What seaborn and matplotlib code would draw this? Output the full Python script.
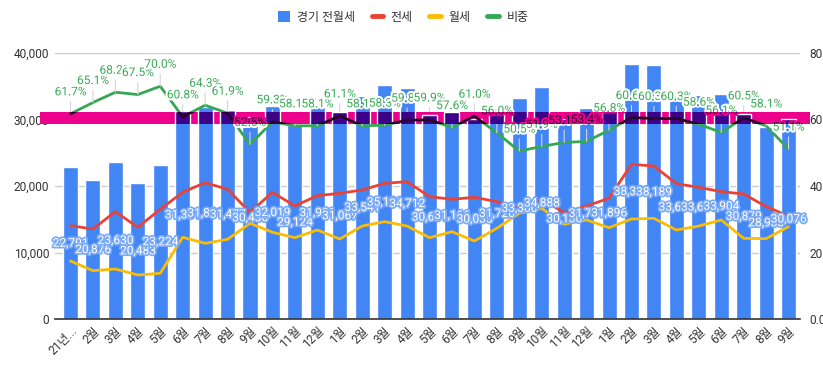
import pandas as pd
import matplotlib
matplotlib.use('Agg')
import matplotlib.pyplot as plt
import matplotlib.patheffects as pe
from matplotlib.patches import Rectangle, Patch
from matplotlib.lines import Line2D
from matplotlib.transforms import blended_transform_factory
import seaborn as sns

# monthly data, 2021-01 .. 2023-09
months = ['21년...', '2월', '3월', '4월', '5월', '6월', '7월', '8월', '9월', '10월', '11월', '12월',
          '1월', '2월', '3월', '4월', '5월', '6월', '7월', '8월', '9월', '10월', '11월', '12월',
          '1월', '2월', '3월', '4월', '5월', '6월', '7월', '8월', '9월']
total = [22791, 20876, 23630, 20483, 23224, 31331, 31831, 31477, 30430, 32019, 29124, 31931,
         31067, 33541, 35131, 34712, 30631, 31166, 30035, 31720, 33300, 34888, 30130, 31731,
         31896, 38331, 38189, 33631, 33631, 33904, 30879, 28933, 30076]
jeonse = [14030, 13530, 16140, 13790, 16500, 19050, 20500, 19500, 16040, 19050, 17000, 18550,
          18900, 19400, 20400, 20650, 18400, 18000, 18300, 17640, 16800, 18000, 16000, 17000,
          18150, 23260, 23000, 20350, 19800, 19150, 18800, 16900, 15500]
wolse = [8720, 7270, 7520, 6620, 6870, 12290, 11380, 11980, 14390, 13040, 12230, 13380,
         12030, 13980, 14640, 13980, 12230, 13130, 11730, 13640, 15890, 16640, 14240, 14890,
         13730, 15040, 15140, 13380, 13980, 14890, 12130, 12080, 13880]
share = [61.7, 65.1, 68.2, 67.5, 70.0, 60.8, 64.3, 61.9, 52.5, 59.3, 58.1, 58.1,
         61.1, 58.1, 58.3, 59.8, 59.9, 57.6, 61.0, 56.0, 50.5, 51.9, 53.1, 53.4,
         56.8, 60.6, 60.3, 60.3, 58.6, 56.1, 60.5, 58.1, 51.1]

BLUE, RED, YELLOW, GREEN = '#4285f4', '#ea4335', '#fbbc04', '#34a853'
BAND = '#ec008c'
TXT = '#333333'

sns.set_theme(style='white')
plt.rcParams['font.family'] = ['Roboto', 'Noto Sans CJK KR', 'DejaVu Sans']
FS = 8.6

df = pd.DataFrame({'month': months, 'total': total, 'jeonse': jeonse,
                   'wolse': wolse, 'share': share})
df['x'] = range(len(df))

fig = plt.figure(figsize=(8.23, 3.66), dpi=100)
ax = fig.add_axes([55 / 823, 47 / 366, 745 / 823, 266 / 366])

sns.barplot(data=df, x='x', y='total', color=BLUE, saturation=1, width=0.67,
            ax=ax, zorder=2)
sns.lineplot(data=df, x='x', y='jeonse', color=RED, lw=2, ax=ax, zorder=3)
sns.lineplot(data=df, x='x', y='wolse', color=YELLOW, lw=2, ax=ax, zorder=3)

# bar labels in the middle of each bar
for i, v in enumerate(total):
    ax.text(i, v / 2, f'{v:,}', ha='center', va='center', color='white', fontsize=FS,
            zorder=4, path_effects=[pe.withStroke(linewidth=2.5, foreground='#7aaaf7')])

ax.set_ylim(0, 40000)
ax.set_yticks(range(0, 40001, 10000))
ax.set_yticklabels([f'{t:,}' for t in range(0, 40001, 10000)])
ax.yaxis.grid(True, color='#cccccc', lw=1)
ax.set_axisbelow(True)
for s in ['top', 'right', 'left']:
    ax.spines[s].set_visible(False)
ax.spines['bottom'].set_color(TXT)
ax.spines['bottom'].set_linewidth(1.2)
ax.set_xlabel('')
ax.set_ylabel('')
ax.tick_params(axis='y', length=0, pad=4, labelsize=FS, labelcolor=TXT)
ax.tick_params(axis='x', length=0, pad=4, labelsize=FS, labelcolor=TXT)

# secondary axis for share
ax2 = ax.twinx()
ax2.plot(df['x'], df['share'], color=GREEN, lw=2, zorder=3)
for i, v in enumerate(share):
    ax2.annotate(f'{v:.1f}%', (i, v), xytext=(0, 22), textcoords='offset pixels',
                 ha='center', va='center', color='#3aaa55', fontsize=FS, zorder=5,
                 path_effects=[pe.withStroke(linewidth=3, foreground='white')],
                 arrowprops=dict(arrowstyle='-', color='#d5d5d5', lw=0.8,
                                 shrinkA=0, shrinkB=0))

# highlight band (multiply-like look)
band_tr = blended_transform_factory(fig.transFigure, ax.transData)
band = Rectangle((40 / 823, 29300), 770 / 823, 1850, transform=band_tr,
                 facecolor=BAND, edgecolor='none', zorder=10, clip_on=False)
ax2.add_artist(band)

dark_bars = ax2.bar(df['x'], df['total'], width=0.67, color='#3d0088',
                    transform=ax.transData, zorder=11)
for r in dark_bars:
    r.set_clip_path(band)
dark_line, = ax2.plot(df['x'], df['share'], color='#2a0028', lw=2, zorder=12)
dark_line.set_clip_path(band)
for i, v in enumerate(share):
    t = ax2.annotate(f'{v:.1f}%', (i, v), xytext=(0, 22), textcoords='offset pixels',
                     ha='center', va='center', color='#33002f', fontsize=FS, zorder=13,
                     path_effects=[pe.withStroke(linewidth=3, foreground=BAND)])
    t.set_clip_path(band)

ax2.set_ylim(0, 80)
ax2.set_yticks(range(0, 81, 20))
ax2.set_yticklabels([f'{t:.1f}%' for t in range(0, 81, 20)])
ax2.tick_params(axis='y', length=0, pad=7, labelsize=FS, labelcolor=TXT)
for s in ax2.spines.values():
    s.set_visible(False)
ax2.set_ylabel('')

ax.set_xlim(-0.69, 32.51)
ax.set_xticks(range(len(months)))
ax.set_xticklabels(months, rotation=45, ha='right', rotation_mode='anchor')

handles = [Patch(facecolor=BLUE, edgecolor='none'),
           Line2D([], [], color=RED, lw=3.5),
           Line2D([], [], color=YELLOW, lw=3.5),
           Line2D([], [], color=GREEN, lw=3.5)]
fig.legend(handles, ['경기 전월세', '전세', '월세', '비중'], loc='center',
           bbox_to_anchor=(403 / 823, 1 - 17 / 366), ncol=4, frameon=False,
           fontsize=FS, handlelength=1.0, handleheight=1.0, handletextpad=0.6,
           columnspacing=1.4, labelcolor=TXT)

fig.savefig('out.png', dpi=100)
